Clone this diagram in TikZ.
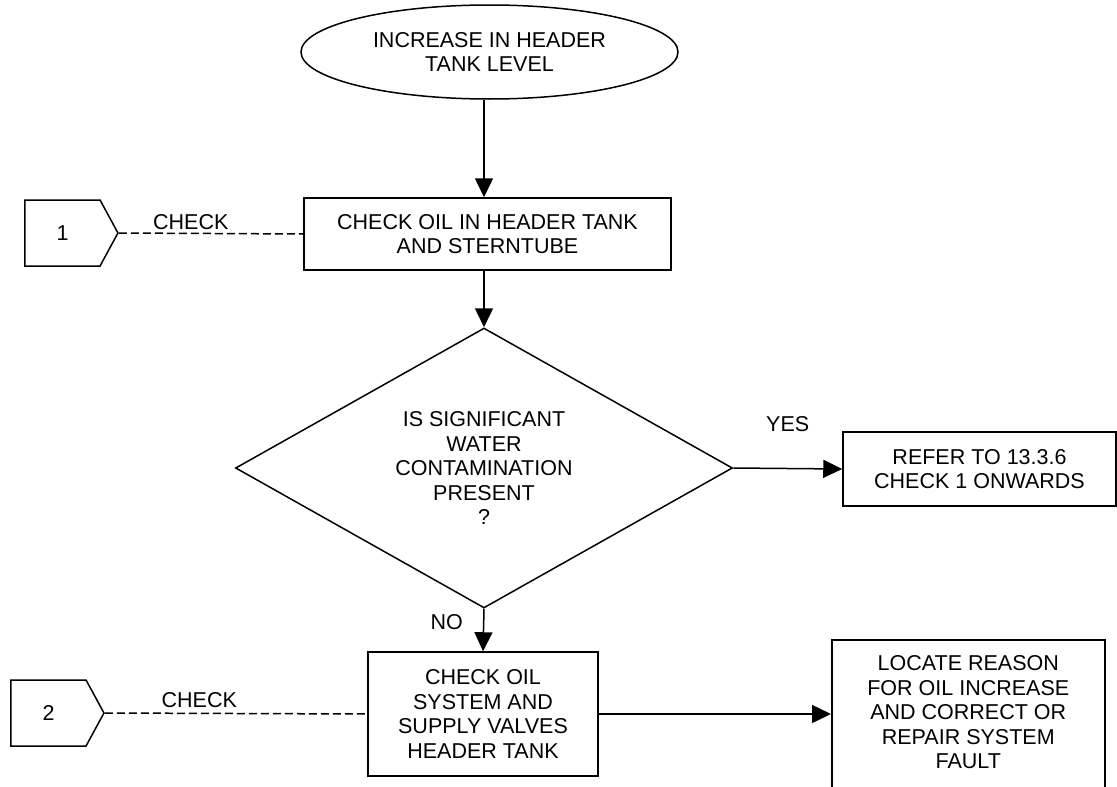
\documentclass[tikz,border=0pt]{standalone}
\usepackage{fontspec}
\setmainfont{Liberation Sans}
\usetikzlibrary{shapes.geometric,shapes.symbols,arrows.meta}
\begin{document}
\begin{tikzpicture}[x=1pt,y=-1pt,
  every node/.style={font=\fontsize{21.5}{24.5}\selectfont},
  box/.style={draw, line width=1.5pt, rectangle, align=center, inner sep=0pt},
  arr/.style={line width=1.5pt, -{Triangle[length=19pt,width=18pt]}},
  dashline/.style={line width=1.5pt, dash pattern=on 8pt off 4pt},
  tag/.style={draw, line width=1.5pt, signal, signal to=east,
    signal pointer angle=123, minimum width=93pt, minimum height=66pt, inner sep=0pt},
  lbl/.style={inner sep=0pt}
]
% page frame
\fill[white] (0,0) rectangle (1117,787);
\clip (0,0) rectangle (1117,787);

% main vertical line of the chart
\coordinate (spine) at (484,0);

% start terminal
\node[draw, ellipse, line width=1.5pt, align=center, inner sep=0pt,
      minimum width=377pt, minimum height=94pt] (start) at (489.5,52)
  {INCREASE IN HEADER\\TANK LEVEL};

% first check
\node[box, minimum width=367pt, minimum height=72pt] (box1) at (487.5,234)
  {CHECK OIL IN HEADER TANK\\AND STERNTUBE};
\node[tag] (p1) at (62.5,233) {1};

% decision
\node[draw, diamond, line width=1.5pt, align=center, inner sep=0pt, aspect=1.775,
      minimum width=497pt, minimum height=280pt] (dec) at (484,468)
  {IS SIGNIFICANT\\WATER\\CONTAMINATION\\PRESENT\\?};

% yes branch
\node[box, minimum width=273pt, minimum height=74pt] (refer) at (979.5,469)
  {REFER TO 13.3.6\\CHECK 1 ONWARDS};

% no branch
\node[box, minimum width=230pt, minimum height=124pt] (box2) at (483,714)
  {CHECK OIL\\SYSTEM AND\\SUPPLY VALVES\\HEADER TANK};
\node[tag] (p2) at (48.5,713) {2};

% final action (runs past the lower edge)
\node[draw, line width=1.5pt, rectangle, anchor=north west, minimum width=273pt,
      inner xsep=0pt, inner ysep=14pt] (locate) at (831,639)
  {\begin{tabular}{@{}c@{}}LOCATE REASON\\FOR OIL INCREASE\\AND CORRECT OR\\REPAIR SYSTEM\\FAULT\\[40pt]\end{tabular}};

% connectors
\draw[arr] (start.south -| spine) -- (box1.north -| spine);
\draw[arr] (box1.south -| spine) -- (dec.north);
\draw[arr] (dec.east) -- node[lbl, midway, above=36.5pt] (yes) {YES} (refer.west);
\draw[arr] (dec.south) -- node[lbl, pos=0.32, left=20pt] (no) {NO} (box2.north);
\draw[arr] (box2.east) -- (box2.east -| locate.west);
\draw[dashline] (p1.east) -- node[lbl, pos=0.39, above=3pt] (c1) {CHECK} (box1.west);
\draw[dashline] (p2.east) -- node[lbl, pos=0.36, above=5pt] (c2) {CHECK} (box2.west);
\end{tikzpicture}
\end{document}
